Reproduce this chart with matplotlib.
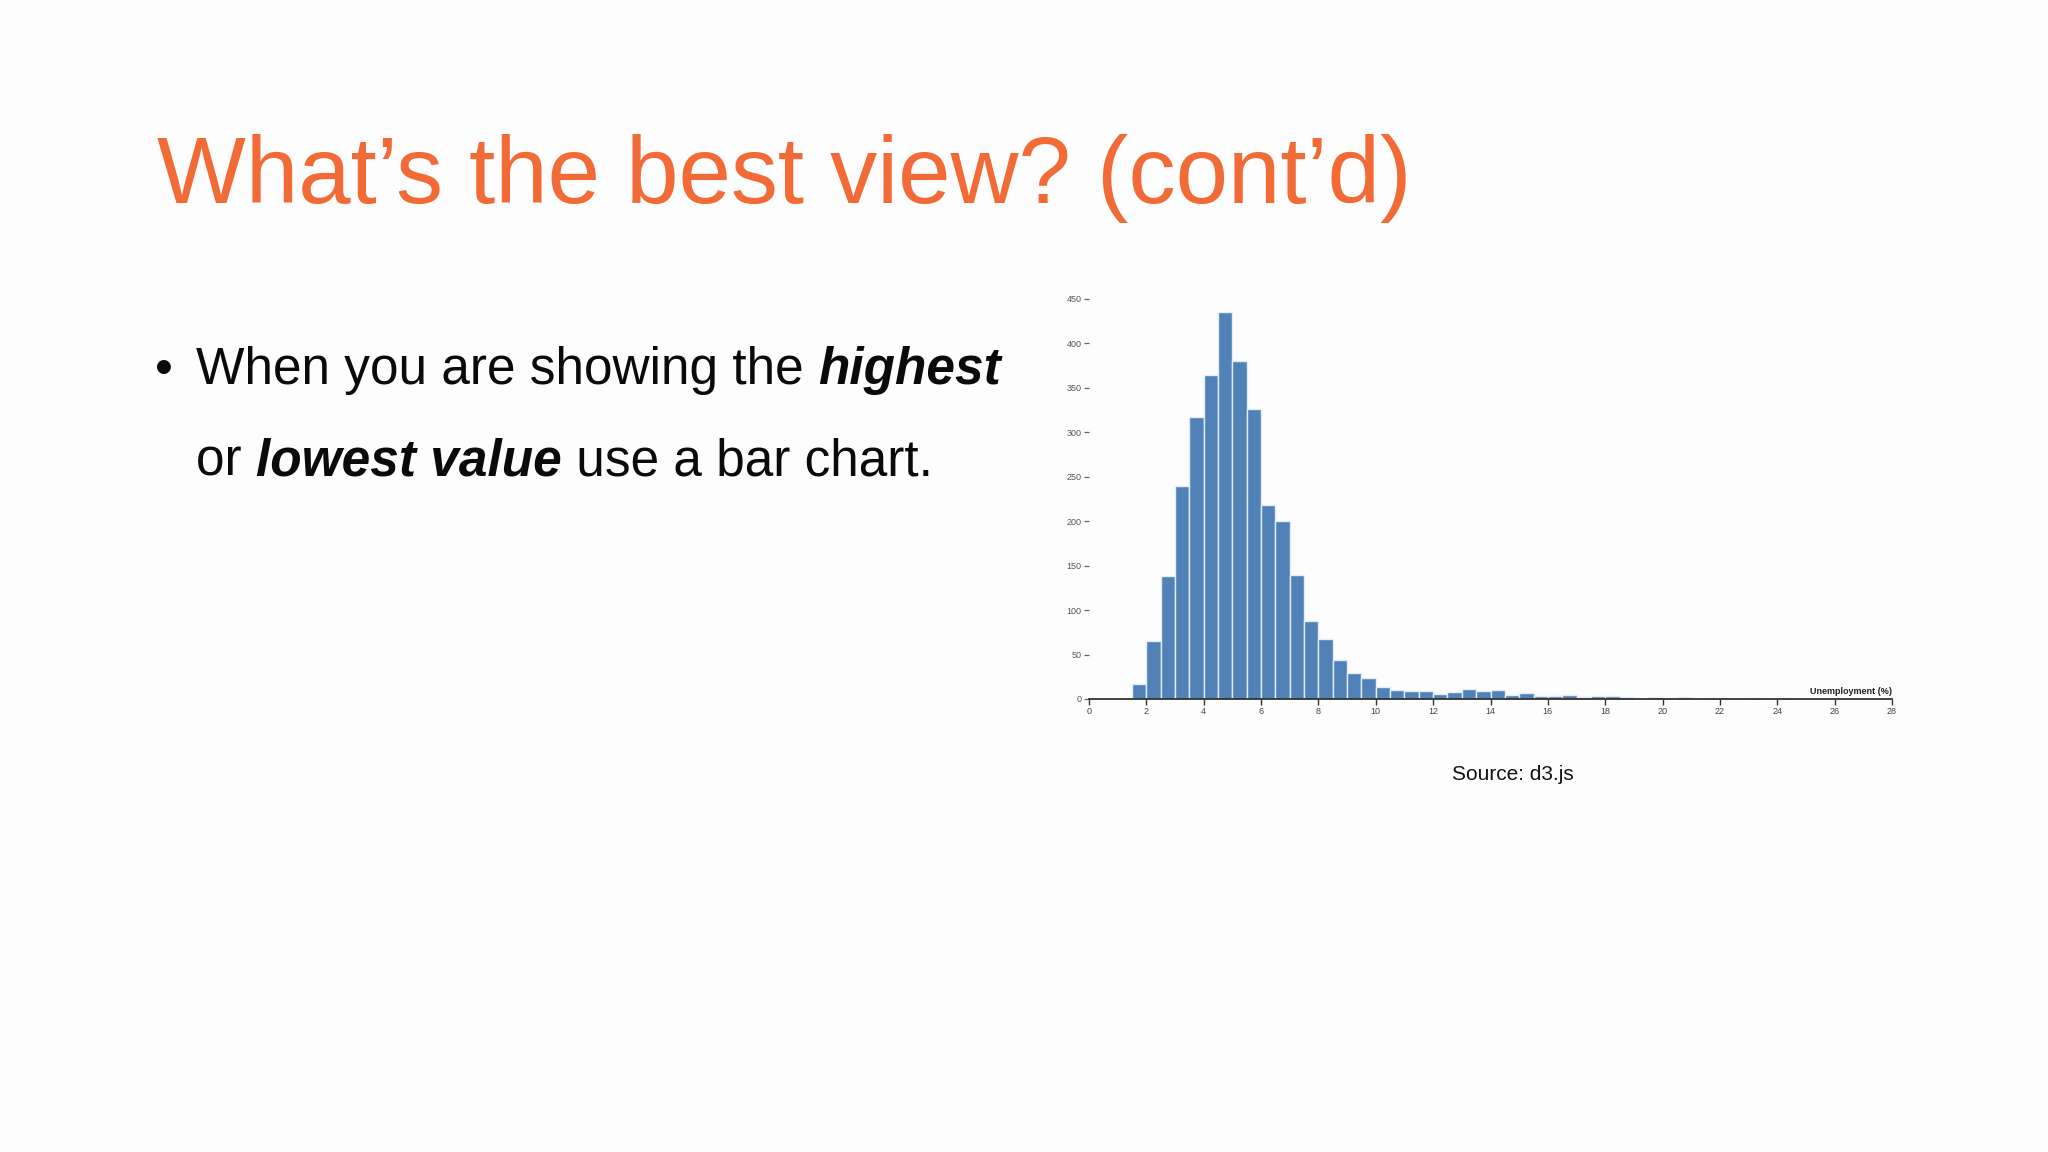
import matplotlib
matplotlib.use("Agg")
import matplotlib.pyplot as plt
import numpy as np

# ---- data ----
bin_width = 0.5
bin_starts = [1.5, 2.0, 2.5, 3.0, 3.5, 4.0, 4.5, 5.0, 5.5, 6.0, 6.5, 7.0, 7.5, 8.0,
              8.5, 9.0, 9.5, 10.0, 10.5, 11.0, 11.5, 12.0, 12.5, 13.0, 13.5, 14.0,
              14.5, 15.0, 15.5, 16.0, 16.5, 17.0, 17.5, 18.0, 18.5, 19.0, 19.5, 20.0,
              20.5, 21.0, 21.5, 22.0, 22.5, 23.0, 23.5, 24.0]
counts = [17, 65, 138, 240, 317, 364, 435, 380, 326, 218, 200, 140, 88, 68,
          44, 29, 24, 14, 10, 9, 9, 6, 8, 11, 9, 10,
          5, 7, 3, 3, 5, 2, 3, 3, 2, 0, 2, 0,
          2, 0, 1, 0, 0, 1, 0, 1]
x_ticks = [0, 2, 4, 6, 8, 10, 12, 14, 16, 18, 20, 22, 24, 26, 28]
y_ticks = [0, 50, 100, 150, 200, 250, 300, 350, 400, 450]
x_label = "Unemployment (%)"

title = "What\u2019s the best view? (cont\u2019d)"
line1 = [("When you are showing the ", "normal"), ("highest", "bolditalic")]
line2 = [("or ", "normal"), ("lowest value", "bolditalic"), (" use a bar chart.", "normal")]
source = "Source: d3.js"

W, H = 2048, 1152
DPI = 100
FONT = "Liberation Sans"
fig = plt.figure(figsize=(W / DPI, H / DPI), dpi=DPI)
fig.patch.set_facecolor("#fdfdfd")

def fx(px):
    return px / W

def fy(py):
    return 1 - py / H

# ---- title ----
fig.text(fx(157), fy(203), title, fontsize=67.8, color="#F26A36",
         family=FONT, ha="left", va="baseline")

# ---- bullet text ----
renderer = fig.canvas.get_renderer()
BSIZE = 37

def text_width(s, style):
    kw = dict(fontsize=BSIZE, family=FONT)
    if style == "bolditalic":
        kw.update(weight="bold", style="italic")
    t = fig.text(0, 0, s.replace(" ", "\u00a0"), **kw)
    w = t.get_window_extent(renderer).width
    t.remove()
    return w

def draw_line(parts, x0, ybase):
    x = x0
    for s, style in parts:
        kw = dict(fontsize=BSIZE, family=FONT, color="#0a0a0a",
                  ha="left", va="baseline")
        if style == "bolditalic":
            kw.update(weight="bold", style="italic")
        fig.text(fx(x), fy(ybase), s.replace(" ", "\u00a0"), **kw)
        x += text_width(s, style)

fig.text(fx(155), fy(384), "\u2022", fontsize=BSIZE, family=FONT,
         color="#0a0a0a", ha="left", va="baseline")
draw_line(line1, 196, 384)
draw_line(line2, 196, 476)

# ---- source ----
fig.text(fx(1513), fy(780), source, fontsize=15, family=FONT,
         color="#111111", ha="center", va="baseline")

# ---- histogram ----
x0px, x1px = 1089, 1892
y0px, y1px = 699, 299
ax = fig.add_axes([fx(x0px), fy(y0px), (x1px - x0px) / W, (y0px - y1px) / H])
ax.set_facecolor("none")
ax.bar(bin_starts, counts, width=bin_width, align="edge",
       color="#5082B8", edgecolor="#e4edf6", linewidth=1.0)
ax.set_xlim(0, 28)
ax.set_ylim(0, 450)
for s in ["top", "right", "left"]:
    ax.spines[s].set_visible(False)
ax.spines["bottom"].set_color("#333333")
ax.spines["bottom"].set_linewidth(1.3)
ax.set_xticks(x_ticks)
ax.set_xticklabels([str(v) for v in x_ticks])
ax.set_yticks(y_ticks)
ax.set_yticklabels([str(v) for v in y_ticks])
ax.tick_params(axis="x", length=4, width=1, color="#333333", pad=2,
               labelsize=6.5, labelcolor="#444444")
ax.tick_params(axis="y", length=3.5, width=0.9, color="#666666", pad=2,
               labelsize=6.5, labelcolor="#555555")
for lab in ax.get_xticklabels() + ax.get_yticklabels():
    lab.set_family(FONT)
ax.text(28, 3, x_label, fontsize=6.5, weight="bold", family=FONT,
        color="#222222", ha="right", va="bottom")

fig.savefig("out.png", dpi=DPI, facecolor=fig.get_facecolor())
